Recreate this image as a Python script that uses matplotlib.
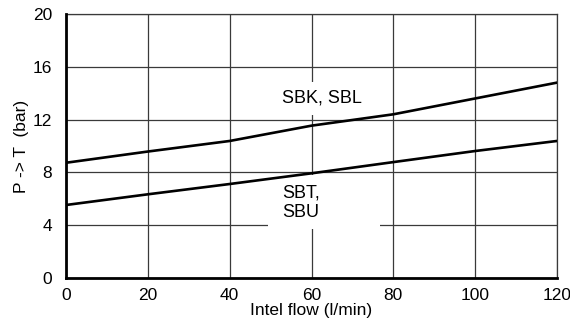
import matplotlib.pyplot as plt
from matplotlib.patches import Rectangle

plt.rcParams['font.family'] = ['Liberation Sans', 'DejaVu Sans']

# flow (l/min) and pressure drop P -> T (bar)
flow = [0, 20, 40, 60, 80, 100, 120]
sbk_sbl = [8.73, 9.58, 10.38, 11.54, 12.4, 13.6, 14.8]
sbt_sbu = [5.53, 6.34, 7.12, 7.93, 8.78, 9.62, 10.38]

x_ticks = [0, 20, 40, 60, 80, 100, 120]
y_ticks = [0, 4, 8, 12, 16, 20]

fig = plt.figure(figsize=(5.7, 3.25), dpi=100)
ax = fig.add_axes([0.1158, 0.1446, 0.8614, 0.8124])

ax.set_xlim(0, 120)
ax.set_ylim(0, 20)
ax.set_xticks(x_ticks)
ax.set_yticks(y_ticks)
ax.grid(True, color='#3a3a3a', linewidth=0.9, zorder=1)
ax.set_axisbelow(True)
ax.tick_params(length=0, labelsize=12.5)
ax.tick_params(axis='y', pad=10)
ax.tick_params(axis='x', pad=7)

for side in ['top', 'right']:
    ax.spines[side].set_color('#3a3a3a')
    ax.spines[side].set_linewidth(0.9)
for side in ['left', 'bottom']:
    ax.spines[side].set_color('black')
    ax.spines[side].set_linewidth(2)
    ax.spines[side].set_zorder(5)

# white masks behind the curve labels (they hide the grid there)
ax.add_patch(Rectangle((50, 12.35), 26, 2.5, facecolor='white', edgecolor='none', zorder=2))
ax.add_patch(Rectangle((49.4, 3.7), 27.4, 4.1, facecolor='white', edgecolor='none', zorder=2))

ax.plot(flow, sbk_sbl, color='black', linewidth=1.9, zorder=3)
ax.plot(flow, sbt_sbu, color='black', linewidth=1.9, zorder=3)

ax.text(52.8, 13.6, 'SBK, SBL', fontsize=13, ha='left', va='center', zorder=4)
ax.text(52.8, 5.72, 'SBT,\nSBU', fontsize=13, ha='left', va='center', zorder=4)

ax.set_xlabel('Intel flow (l/min)', fontsize=12.5, labelpad=0)
ax.set_ylabel('P -> T  (bar)', fontsize=12.5, labelpad=3)

fig.savefig('out.png', dpi=100)
